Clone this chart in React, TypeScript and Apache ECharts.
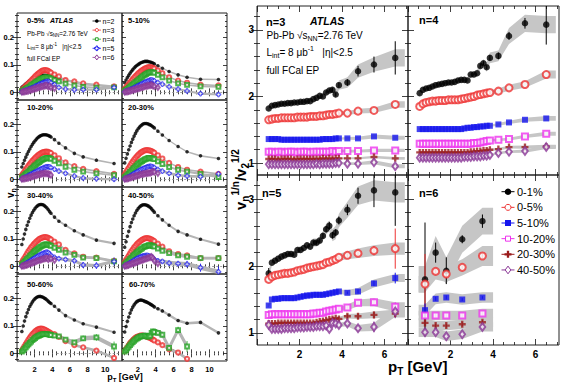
import React, { useEffect, useRef } from "react";
import * as echarts from "echarts";

/* ================= LEFT FIGURE: v_n vs pT, 8 centrality bins ================= */
const pTLeft = [0.55, 0.7, 0.85, 1.0, 1.15, 1.3, 1.45, 1.6, 1.75, 1.9, 2.05, 2.2, 2.35, 2.5, 2.65, 2.8, 2.95, 3.1, 3.25, 3.4, 3.55, 3.7, 3.85, 4.25, 4.75, 5.5, 6.5, 7.5, 9, 11];
const centralityLabels = ["0-5%", "5-10%", "10-20%", "20-30%", "30-40%", "40-50%", "50-60%", "60-70%"];
const harmonicLabels = ["n=2", "n=3", "n=4", "n=5", "n=6"];

const v0_5_n2 = [0.018, 0.022, 0.027, 0.031, 0.035, 0.039, 0.042, 0.045, 0.048, 0.051, 0.053, 0.055, 0.057, 0.059, 0.060, 0.061, 0.062, 0.062, 0.062, 0.061, 0.060, 0.059, 0.058, 0.055, 0.049, 0.045, 0.034, 0.028, 0.025, 0.018];
const v0_5_n3 = [0.008, 0.013, 0.018, 0.023, 0.028, 0.033, 0.038, 0.043, 0.048, 0.053, 0.058, 0.063, 0.067, 0.071, 0.075, 0.078, 0.080, 0.081, 0.081, 0.080, 0.078, 0.075, 0.072, 0.065, 0.058, 0.045, 0.040, 0.033, 0.028, 0.022];
const v0_5_n4 = [0.004, 0.007, 0.010, 0.013, 0.016, 0.019, 0.022, 0.026, 0.029, 0.032, 0.035, 0.039, 0.042, 0.045, 0.048, 0.050, 0.052, 0.054, 0.055, 0.055, 0.054, 0.052, 0.050, 0.045, 0.040, 0.032, 0.025, 0.020, 0.017, 0.018];
const v0_5_n5 = [0.002, 0.003, 0.005, 0.007, 0.009, 0.011, 0.013, 0.015, 0.017, 0.019, 0.022, 0.024, 0.026, 0.029, 0.031, 0.033, 0.035, 0.037, 0.039, 0.040, 0.040, 0.038, 0.035, 0.028, 0.018, 0.012, 0.009, 0.010, 0.010, 0.018];
const v0_5_n6 = [0.001, 0.002, 0.003, 0.004, 0.005, 0.006, 0.008, 0.009, 0.011, 0.012, 0.014, 0.015, 0.017, 0.018, 0.020, 0.021, 0.022, 0.024, 0.025, 0.025, 0.020, 0.024, 0.018, 0.015, null, null, null, null, null, null];

const v5_10_n2 = [0.035, 0.045, 0.054, 0.062, 0.070, 0.077, 0.083, 0.089, 0.094, 0.098, 0.102, 0.105, 0.108, 0.110, 0.112, 0.113, 0.113, 0.113, 0.112, 0.111, 0.109, 0.107, 0.104, 0.097, 0.088, 0.076, 0.064, 0.055, 0.048, 0.047];
const v5_10_n3 = [0.012, 0.018, 0.024, 0.030, 0.036, 0.042, 0.048, 0.054, 0.059, 0.064, 0.069, 0.073, 0.077, 0.081, 0.084, 0.087, 0.089, 0.091, 0.092, 0.092, 0.091, 0.089, 0.087, 0.080, 0.070, 0.055, 0.043, 0.035, 0.028, 0.025];
const v5_10_n4 = [0.006, 0.009, 0.013, 0.017, 0.021, 0.025, 0.029, 0.033, 0.037, 0.041, 0.045, 0.049, 0.053, 0.057, 0.061, 0.064, 0.067, 0.070, 0.072, 0.074, 0.074, 0.073, 0.071, 0.064, 0.055, 0.043, 0.033, 0.027, 0.022, 0.020];
const v5_10_n5 = [0.002, 0.004, 0.006, 0.008, 0.010, 0.012, 0.014, 0.017, 0.019, 0.022, 0.024, 0.027, 0.029, 0.032, 0.034, 0.037, 0.039, 0.041, 0.043, 0.045, 0.045, 0.044, 0.042, 0.036, 0.030, 0.020, 0.012, 0.005, -0.005, -0.008];
const v5_10_n6 = [0.001, 0.002, 0.003, 0.004, 0.005, 0.007, 0.008, 0.010, 0.011, 0.013, 0.014, 0.016, 0.017, 0.019, 0.020, 0.022, 0.023, 0.024, 0.025, 0.026, 0.027, 0.024, 0.022, 0.018, null, null, null, null, null, null];

const v10_20_n2 = [0.045, 0.058, 0.070, 0.081, 0.092, 0.102, 0.111, 0.120, 0.128, 0.135, 0.141, 0.147, 0.152, 0.156, 0.159, 0.161, 0.163, 0.163, 0.163, 0.162, 0.160, 0.158, 0.155, 0.145, 0.132, 0.115, 0.095, 0.082, 0.070, 0.058];
const v10_20_n3 = [0.015, 0.022, 0.029, 0.036, 0.043, 0.050, 0.056, 0.062, 0.068, 0.073, 0.078, 0.083, 0.087, 0.091, 0.094, 0.097, 0.099, 0.100, 0.101, 0.101, 0.100, 0.098, 0.096, 0.088, 0.077, 0.062, 0.048, 0.038, 0.030, 0.020];
const v10_20_n4 = [0.007, 0.011, 0.015, 0.020, 0.024, 0.029, 0.033, 0.038, 0.042, 0.047, 0.051, 0.055, 0.059, 0.063, 0.066, 0.070, 0.073, 0.075, 0.077, 0.078, 0.078, 0.077, 0.075, 0.068, 0.058, 0.046, 0.035, 0.028, 0.022, 0.015];
const v10_20_n5 = [0.002, 0.004, 0.006, 0.009, 0.011, 0.014, 0.016, 0.019, 0.021, 0.024, 0.027, 0.029, 0.032, 0.034, 0.037, 0.039, 0.041, 0.043, 0.045, 0.046, 0.046, 0.045, 0.043, 0.037, 0.030, 0.022, 0.012, 0.005, 0.002, 0.000];
const v10_20_n6 = [0.001, 0.002, 0.003, 0.004, 0.005, 0.006, 0.008, 0.009, 0.011, 0.012, 0.014, 0.015, 0.017, 0.018, 0.019, 0.020, 0.021, 0.022, 0.022, 0.021, 0.020, 0.018, 0.016, null, null, null, null, null, null, null];

const v20_30_n2 = [0.060, 0.077, 0.093, 0.108, 0.122, 0.135, 0.147, 0.158, 0.168, 0.177, 0.185, 0.191, 0.196, 0.200, 0.203, 0.204, 0.204, 0.203, 0.201, 0.199, 0.196, 0.192, 0.188, 0.176, 0.162, 0.142, 0.120, 0.101, 0.086, 0.076];
const v20_30_n3 = [0.018, 0.026, 0.034, 0.042, 0.050, 0.058, 0.065, 0.072, 0.078, 0.084, 0.089, 0.094, 0.098, 0.101, 0.104, 0.106, 0.107, 0.107, 0.106, 0.105, 0.103, 0.100, 0.097, 0.088, 0.076, 0.060, 0.045, 0.035, 0.028, 0.020];
const v20_30_n4 = [0.008, 0.012, 0.017, 0.022, 0.027, 0.032, 0.037, 0.042, 0.047, 0.051, 0.056, 0.060, 0.064, 0.067, 0.070, 0.073, 0.075, 0.077, 0.078, 0.078, 0.077, 0.076, 0.074, 0.066, 0.056, 0.045, 0.035, 0.028, 0.020, 0.008];
const v20_30_n5 = [0.002, 0.004, 0.007, 0.009, 0.012, 0.015, 0.018, 0.021, 0.024, 0.027, 0.030, 0.033, 0.035, 0.038, 0.040, 0.042, 0.044, 0.046, 0.047, 0.048, 0.047, 0.045, 0.043, 0.036, 0.030, 0.022, 0.015, 0.012, 0.010, 0.020];
const v20_30_n6 = [0.001, 0.002, 0.003, 0.004, 0.006, 0.007, 0.009, 0.010, 0.012, 0.013, 0.015, 0.016, 0.018, 0.019, 0.020, 0.021, 0.022, 0.023, 0.023, 0.024, 0.026, 0.028, 0.027, 0.022, null, null, null, null, null, null];

const v30_40_n2 = [0.080, 0.100, 0.118, 0.135, 0.150, 0.163, 0.176, 0.187, 0.197, 0.205, 0.212, 0.218, 0.222, 0.225, 0.226, 0.226, 0.225, 0.222, 0.218, 0.213, 0.207, 0.200, 0.194, 0.180, 0.165, 0.150, 0.130, 0.115, 0.096, 0.084];
const v30_40_n3 = [0.015, 0.023, 0.031, 0.039, 0.047, 0.055, 0.062, 0.069, 0.075, 0.081, 0.086, 0.091, 0.095, 0.099, 0.102, 0.104, 0.106, 0.107, 0.107, 0.106, 0.104, 0.101, 0.098, 0.090, 0.080, 0.060, 0.047, 0.035, 0.032, 0.020];
const v30_40_n4 = [0.007, 0.012, 0.017, 0.022, 0.027, 0.032, 0.037, 0.042, 0.047, 0.052, 0.056, 0.060, 0.064, 0.068, 0.071, 0.074, 0.077, 0.079, 0.080, 0.080, 0.079, 0.077, 0.075, 0.068, 0.060, 0.050, 0.042, 0.032, 0.030, 0.018];
const v30_40_n5 = [0.002, 0.004, 0.007, 0.010, 0.013, 0.016, 0.019, 0.022, 0.025, 0.028, 0.031, 0.034, 0.037, 0.040, 0.042, 0.045, 0.047, 0.049, 0.051, 0.052, 0.050, 0.045, 0.040, 0.033, 0.028, 0.025, 0.020, 0.005, 0.003, 0.018];
const v30_40_n6 = [0.001, 0.002, 0.003, 0.005, 0.006, 0.008, 0.010, 0.012, 0.013, 0.015, 0.017, 0.019, 0.021, 0.022, 0.024, 0.025, 0.027, 0.028, 0.029, 0.030, 0.025, 0.031, 0.028, 0.022, null, null, null, null, null, null];

const v40_50_n2 = [0.070, 0.090, 0.110, 0.128, 0.145, 0.160, 0.173, 0.185, 0.195, 0.204, 0.211, 0.217, 0.221, 0.224, 0.225, 0.225, 0.224, 0.222, 0.219, 0.215, 0.210, 0.204, 0.198, 0.185, 0.170, 0.150, 0.128, 0.115, 0.099, 0.081];
const v40_50_n3 = [0.015, 0.023, 0.031, 0.039, 0.047, 0.055, 0.062, 0.069, 0.075, 0.081, 0.086, 0.090, 0.094, 0.097, 0.100, 0.102, 0.103, 0.103, 0.102, 0.100, 0.098, 0.095, 0.092, 0.083, 0.072, 0.055, 0.045, 0.040, 0.030, 0.030];
const v40_50_n4 = [0.007, 0.012, 0.017, 0.022, 0.027, 0.032, 0.037, 0.042, 0.047, 0.051, 0.055, 0.059, 0.063, 0.066, 0.070, 0.072, 0.074, 0.076, 0.077, 0.077, 0.076, 0.074, 0.072, 0.065, 0.057, 0.048, 0.040, 0.035, 0.030, 0.030];
const v40_50_n5 = [0.002, 0.004, 0.007, 0.010, 0.013, 0.016, 0.019, 0.022, 0.025, 0.028, 0.031, 0.033, 0.035, 0.037, 0.038, 0.039, 0.040, 0.040, 0.038, 0.036, 0.035, 0.030, 0.025, 0.020, 0.018, 0.012, 0.010, 0.008, -0.005, -0.020];
const v40_50_n6 = [0.001, 0.002, 0.004, 0.005, 0.007, 0.009, 0.011, 0.012, 0.014, 0.016, 0.018, 0.020, 0.021, 0.023, 0.025, 0.027, 0.028, 0.030, 0.031, 0.033, 0.035, 0.030, 0.020, 0.010, null, null, null, null, null, null];

const v50_60_n2 = [0.080, 0.100, 0.118, 0.134, 0.148, 0.160, 0.171, 0.180, 0.188, 0.195, 0.200, 0.204, 0.207, 0.208, 0.208, 0.207, 0.205, 0.202, 0.199, 0.195, 0.190, 0.186, 0.182, 0.172, 0.158, 0.138, 0.122, 0.108, 0.096, 0.077];
const v50_60_n3 = [0.010, 0.018, 0.026, 0.034, 0.042, 0.050, 0.057, 0.064, 0.070, 0.075, 0.080, 0.084, 0.087, 0.089, 0.090, 0.090, 0.089, 0.087, 0.085, 0.082, 0.079, 0.076, 0.073, 0.070, 0.060, 0.045, 0.030, 0.022, 0.010, -0.017];
const v50_60_n4 = [0.006, 0.011, 0.017, 0.022, 0.028, 0.033, 0.038, 0.043, 0.048, 0.052, 0.056, 0.060, 0.063, 0.065, 0.067, 0.069, 0.070, 0.070, 0.070, 0.070, 0.069, 0.068, 0.067, 0.065, 0.062, 0.050, 0.040, 0.055, 0.058, 0.025];

const v60_70_n2 = [0.078, 0.098, 0.117, 0.133, 0.147, 0.159, 0.169, 0.177, 0.184, 0.189, 0.192, 0.194, 0.195, 0.194, 0.192, 0.190, 0.188, 0.186, 0.183, 0.180, 0.177, 0.174, 0.170, 0.163, 0.155, 0.140, 0.120, 0.110, 0.113, 0.075];
const v60_70_n3 = [0.008, 0.015, 0.022, 0.030, 0.037, 0.043, 0.048, 0.053, 0.057, 0.060, 0.062, 0.064, 0.065, 0.065, 0.064, 0.063, 0.062, 0.060, 0.058, 0.056, 0.053, 0.050, 0.047, 0.040, 0.030, 0.015, 0.003, -0.020, null, null];
const v60_70_n4 = [0.006, 0.012, 0.018, 0.024, 0.030, 0.036, 0.041, 0.046, 0.050, 0.054, 0.057, 0.060, 0.062, 0.063, 0.064, 0.065, 0.064, 0.060, 0.062, 0.065, 0.075, 0.080, 0.078, 0.075, 0.068, 0.020, 0.085, 0.025, null, null];

// systematic half-widths (per harmonic n=2..6) for each centrality bin
const sysL0_5 = [0.003, 0.003, 0.003, 0.004, 0.004];
const sysL5_10 = [0.003, 0.003, 0.003, 0.004, 0.004];
const sysL10_20 = [0.003, 0.003, 0.003, 0.004, 0.004];
const sysL20_30 = [0.003, 0.003, 0.004, 0.005, 0.005];
const sysL30_40 = [0.004, 0.004, 0.004, 0.006, 0.006];
const sysL40_50 = [0.004, 0.004, 0.005, 0.008, 0.008];
const sysL50_60 = [0.004, 0.005, 0.008];
const sysL60_70 = [0.005, 0.006, 0.012];

// statistical errors at the high-pT points (pT = 4.25 ... 11)
const errTail30_40_n5 = [0.004, 0.005, 0.006, 0.008, 0.010, 0.012, 0.015];
const errTail40_50_n5 = [0.004, 0.005, 0.006, 0.008, 0.012, 0.015, 0.020];
const errTail50_60_n4 = [0.004, 0.005, 0.006, 0.008, 0.010, 0.012, 0.018];
const errTail60_70_n3 = [0.004, 0.005, 0.006, 0.008, 0.010, 0, 0];
const errTail60_70_n4 = [0.006, 0.008, 0.010, 0.012, 0.020, 0, 0];

/* ================= RIGHT FIGURE: v_n^{1/n}/v_2^{1/2} ================= */
const pTRight = [0.55, 0.7, 0.85, 1.0, 1.15, 1.3, 1.45, 1.6, 1.75, 1.9, 2.05, 2.2, 2.35, 2.5, 2.65, 2.8, 2.95, 3.1, 3.25, 3.4, 3.55, 3.7, 3.85, 4.25, 4.75, 5.5, 6.5];
const pTN6 = [0.8, 1.3, 1.8, 2.55, 3.5];
const rightCentLabels = ["0-1%", "0-5%", "5-10%", "10-20%", "20-30%", "40-50%"];
const rightPanelLabels = ["n=3", "n=4", "n=5", "n=6"];

const n3_c01 = [1.82, 1.86, 1.87, 1.88, 1.89, 1.89, 1.90, 1.90, 1.91, 1.91, 1.92, 1.92, 1.93, 1.93, 1.96, 1.98, 2.01, 2.00, 2.06, 2.09, 2.10, 2.03, 2.17, 2.21, 2.38, 2.48, 2.58];
const n3_c05 = [1.65, 1.66, 1.67, 1.67, 1.68, 1.68, 1.68, 1.68, 1.68, 1.69, 1.69, 1.69, 1.69, 1.70, 1.70, 1.70, 1.71, 1.71, 1.72, 1.73, 1.73, 1.74, 1.75, 1.75, 1.78, 1.79, 1.88];
const n3_c510 = [1.36, 1.36, 1.36, 1.36, 1.35, 1.35, 1.35, 1.35, 1.35, 1.35, 1.35, 1.35, 1.35, 1.35, 1.35, 1.35, 1.35, 1.36, 1.36, 1.36, 1.36, 1.37, 1.37, 1.37, 1.37, 1.40, 1.38];
const n3_c1020 = [1.17, 1.17, 1.16, 1.17, 1.17, 1.16, 1.17, 1.17, 1.17, 1.16, 1.17, 1.17, 1.17, 1.16, 1.17, 1.17, 1.17, 1.17, 1.17, 1.17, 1.18, 1.17, 1.18, 1.18, 1.18, 1.19, 1.19];
const n3_c2030 = [1.06, 1.06, 1.06, 1.05, 1.06, 1.06, 1.06, 1.06, 1.05, 1.06, 1.06, 1.06, 1.06, 1.06, 1.06, 1.06, 1.06, 1.07, 1.06, 1.07, 1.06, 1.07, 1.07, 1.07, 1.07, 1.09, 1.07];
const n3_c4050 = [0.98, 0.98, 0.98, 0.98, 0.98, 0.98, 0.98, 0.98, 0.98, 0.98, 0.98, 0.98, 0.98, 0.98, 0.98, 0.99, 0.98, 0.99, 0.99, 0.99, 0.99, 1.00, 1.00, 0.99, 0.99, 1.01, 0.95];

const n4_c01 = [2.05, 2.10, 2.12, 2.13, 2.15, 2.17, 2.18, 2.19, 2.20, 2.21, 2.21, 2.22, 2.24, 2.25, 2.25, 2.24, 2.33, 2.33, 2.35, 2.46, 2.50, 2.44, 2.58, 2.61, 2.91, 3.10, 3.08];
const n4_c05 = [1.85, 1.89, 1.91, 1.92, 1.93, 1.93, 1.94, 1.94, 1.94, 1.95, 1.95, 1.95, 1.95, 1.96, 1.97, 1.98, 1.99, 2.00, 2.02, 2.03, 2.04, 2.05, 2.06, 2.08, 2.13, 2.18, 2.33];
const n4_c510 = [1.51, 1.51, 1.51, 1.51, 1.51, 1.51, 1.51, 1.51, 1.51, 1.51, 1.51, 1.51, 1.51, 1.51, 1.52, 1.53, 1.53, 1.54, 1.54, 1.55, 1.55, 1.56, 1.56, 1.58, 1.61, 1.65, 1.67];
const n4_c1020 = [1.29, 1.29, 1.29, 1.29, 1.29, 1.29, 1.29, 1.29, 1.29, 1.29, 1.29, 1.29, 1.29, 1.29, 1.29, 1.29, 1.29, 1.30, 1.30, 1.31, 1.32, 1.33, 1.34, 1.35, 1.36, 1.40, 1.44];
const n4_c2030 = [1.16, 1.16, 1.16, 1.16, 1.16, 1.16, 1.16, 1.16, 1.16, 1.16, 1.16, 1.16, 1.16, 1.16, 1.16, 1.16, 1.17, 1.17, 1.18, 1.18, 1.19, 1.19, 1.20, 1.21, 1.24, 1.24, 1.25];
const n4_c4050 = [1.08, 1.08, 1.08, 1.08, 1.08, 1.08, 1.08, 1.08, 1.08, 1.08, 1.08, 1.08, 1.08, 1.08, 1.09, 1.09, 1.09, 1.10, 1.10, 1.10, 1.11, 1.11, 1.12, 1.15, 1.17, 1.18, 1.24];

const n5_c01 = [1.89, 2.05, 2.08, 2.11, 2.14, 2.16, 2.18, 2.18, 2.17, 2.24, 2.24, 2.27, 2.31, 2.29, 2.35, 2.35, 2.38, 2.45, 2.55, 2.60, 2.46, 2.50, 2.68, 2.84, 3.05, 3.13, 3.10];
const n5_c05 = [1.80, 1.84, 1.86, 1.87, 1.88, 1.89, 1.89, 1.90, 1.91, 1.93, 1.94, 1.95, 1.97, 1.98, 1.99, 2.00, 2.01, 2.02, 2.05, 2.06, 2.08, 2.10, 2.13, 2.16, 2.19, 2.23, 2.26];
const n5_c510 = [1.41, 1.50, 1.51, 1.51, 1.52, 1.52, 1.52, 1.52, 1.52, 1.53, 1.54, 1.55, 1.56, 1.56, 1.57, 1.57, 1.57, 1.57, 1.58, 1.59, 1.60, 1.61, 1.62, 1.60, 1.62, 1.74, 1.82];
const n5_c1020 = [1.27, 1.28, 1.28, 1.28, 1.28, 1.28, 1.28, 1.28, 1.28, 1.28, 1.28, 1.28, 1.28, 1.28, 1.29, 1.29, 1.30, 1.30, 1.32, 1.33, 1.34, 1.35, 1.36, 1.38, 1.45, 1.46, 1.39];
const n5_c2030 = [1.14, 1.14, 1.14, 1.15, 1.15, 1.15, 1.15, 1.15, 1.15, 1.15, 1.15, 1.15, 1.15, 1.15, 1.15, 1.16, 1.17, 1.18, 1.19, 1.20, 1.21, 1.22, 1.21, 1.25, 1.25, 1.27, 1.29];
const n5_c4050 = [1.12, 1.06, 1.06, 1.06, 1.06, 1.07, 1.07, 1.07, 1.07, 1.08, 1.08, 1.08, 1.09, 1.09, 1.09, 1.10, 1.10, 1.10, 1.11, 1.06, 1.15, 1.14, 1.12, 1.14, 1.07, 1.09, 1.32];

const n6_c01 = [1.80, 2.20, 1.93, 2.40, 2.67];
const n6_c05 = [1.73, 1.92, 1.88, 1.98, 2.15];
const n6_c510 = [1.34, 1.51, 1.53, 1.50, 1.53];
const n6_c1020 = [1.26, 1.26, 1.26, 1.26, 1.29];
const n6_c2030 = [1.15, 1.11, 1.11, 1.13, 1.16];
const n6_c4050 = [1.01, 1.01, 0.95, 0.98, 1.09];

// systematic half-widths (grey bands)
const sysN3_c01 = [0.03, 0.03, 0.03, 0.03, 0.03, 0.03, 0.03, 0.03, 0.03, 0.03, 0.03, 0.03, 0.03, 0.03, 0.035, 0.035, 0.04, 0.04, 0.045, 0.05, 0.05, 0.06, 0.07, 0.08, 0.10, 0.11, 0.13];
const sysN3_c05 = [0.02, 0.02, 0.02, 0.02, 0.02, 0.02, 0.02, 0.02, 0.02, 0.02, 0.02, 0.02, 0.02, 0.02, 0.02, 0.02, 0.02, 0.02, 0.02, 0.02, 0.025, 0.025, 0.03, 0.03, 0.035, 0.04, 0.05];
const sysN3_c510 = [0.015, 0.015, 0.015, 0.015, 0.015, 0.015, 0.015, 0.015, 0.015, 0.015, 0.015, 0.015, 0.015, 0.015, 0.015, 0.015, 0.015, 0.015, 0.015, 0.015, 0.015, 0.015, 0.015, 0.02, 0.025, 0.03, 0.03];
const sysN3_c1020 = [0.015, 0.015, 0.015, 0.015, 0.015, 0.015, 0.015, 0.015, 0.015, 0.015, 0.015, 0.015, 0.015, 0.015, 0.015, 0.015, 0.015, 0.015, 0.015, 0.015, 0.015, 0.015, 0.015, 0.02, 0.02, 0.025, 0.025];
const sysN3_c2030 = [0.012, 0.012, 0.012, 0.012, 0.012, 0.012, 0.012, 0.012, 0.012, 0.012, 0.012, 0.012, 0.012, 0.012, 0.012, 0.012, 0.012, 0.012, 0.012, 0.012, 0.012, 0.012, 0.012, 0.015, 0.015, 0.02, 0.02];
const sysN3_c4050 = [0.015, 0.015, 0.015, 0.015, 0.015, 0.015, 0.015, 0.015, 0.015, 0.015, 0.015, 0.015, 0.015, 0.015, 0.015, 0.015, 0.015, 0.015, 0.015, 0.015, 0.015, 0.015, 0.015, 0.02, 0.02, 0.03, 0.03];

const sysN4_c01 = [0.04, 0.04, 0.04, 0.04, 0.04, 0.04, 0.04, 0.04, 0.04, 0.04, 0.04, 0.04, 0.04, 0.04, 0.045, 0.045, 0.05, 0.05, 0.055, 0.06, 0.06, 0.07, 0.08, 0.08, 0.12, 0.13, 0.13];
const sysN4_c05 = [0.025, 0.025, 0.025, 0.025, 0.025, 0.025, 0.025, 0.025, 0.025, 0.025, 0.025, 0.025, 0.025, 0.025, 0.025, 0.025, 0.025, 0.025, 0.025, 0.025, 0.03, 0.03, 0.035, 0.04, 0.045, 0.05, 0.06];
const sysN4_c510 = [0.015, 0.015, 0.015, 0.015, 0.015, 0.015, 0.015, 0.015, 0.015, 0.015, 0.015, 0.015, 0.015, 0.015, 0.015, 0.015, 0.015, 0.015, 0.015, 0.015, 0.015, 0.015, 0.015, 0.02, 0.025, 0.03, 0.035];
const sysN4_c1020 = [0.015, 0.015, 0.015, 0.015, 0.015, 0.015, 0.015, 0.015, 0.015, 0.015, 0.015, 0.015, 0.015, 0.015, 0.015, 0.015, 0.015, 0.015, 0.015, 0.015, 0.015, 0.015, 0.015, 0.02, 0.02, 0.025, 0.03];
const sysN4_c2030 = [0.015, 0.015, 0.015, 0.015, 0.015, 0.015, 0.015, 0.015, 0.015, 0.015, 0.015, 0.015, 0.015, 0.015, 0.015, 0.015, 0.015, 0.015, 0.015, 0.015, 0.015, 0.015, 0.015, 0.02, 0.02, 0.025, 0.025];
const sysN4_c4050 = [0.015, 0.015, 0.015, 0.015, 0.015, 0.015, 0.015, 0.015, 0.015, 0.015, 0.015, 0.015, 0.015, 0.015, 0.015, 0.015, 0.015, 0.015, 0.015, 0.015, 0.015, 0.015, 0.015, 0.02, 0.02, 0.025, 0.03];

const sysN5_c01 = [0.05, 0.05, 0.05, 0.05, 0.05, 0.05, 0.05, 0.05, 0.05, 0.05, 0.05, 0.05, 0.05, 0.05, 0.06, 0.06, 0.06, 0.07, 0.08, 0.08, 0.09, 0.10, 0.10, 0.12, 0.14, 0.15, 0.15];
const sysN5_c05 = [0.035, 0.035, 0.035, 0.035, 0.035, 0.035, 0.035, 0.035, 0.035, 0.035, 0.035, 0.035, 0.035, 0.035, 0.035, 0.035, 0.035, 0.035, 0.035, 0.035, 0.04, 0.04, 0.05, 0.06, 0.07, 0.08, 0.09];
const sysN5_c510 = [0.025, 0.025, 0.025, 0.025, 0.025, 0.025, 0.025, 0.025, 0.025, 0.025, 0.025, 0.025, 0.025, 0.025, 0.025, 0.025, 0.025, 0.025, 0.025, 0.025, 0.03, 0.03, 0.03, 0.04, 0.05, 0.06, 0.06];
const sysN5_c1020 = [0.02, 0.02, 0.02, 0.02, 0.02, 0.02, 0.02, 0.02, 0.02, 0.02, 0.02, 0.02, 0.02, 0.02, 0.02, 0.02, 0.02, 0.02, 0.02, 0.02, 0.025, 0.025, 0.03, 0.04, 0.05, 0.06, 0.07];
const sysN5_c2030 = [0.02, 0.02, 0.02, 0.02, 0.02, 0.02, 0.02, 0.02, 0.02, 0.02, 0.02, 0.02, 0.02, 0.02, 0.02, 0.02, 0.02, 0.02, 0.02, 0.02, 0.025, 0.025, 0.03, 0.035, 0.04, 0.05, 0.06];
const sysN5_c4050 = [0.02, 0.02, 0.02, 0.02, 0.02, 0.02, 0.02, 0.02, 0.02, 0.02, 0.02, 0.02, 0.02, 0.02, 0.02, 0.02, 0.02, 0.02, 0.02, 0.02, 0.025, 0.025, 0.03, 0.04, 0.05, 0.06, 0.08];

const sysN6_c01 = [0.20, 0.25, 0.20, 0.20, 0.20];
const sysN6_c05 = [0.12, 0.12, 0.12, 0.12, 0.15];
const sysN6_c510 = [0.08, 0.08, 0.08, 0.08, 0.08];
const sysN6_c1020 = [0.07, 0.07, 0.07, 0.07, 0.07];
const sysN6_c2030 = [0.07, 0.07, 0.07, 0.07, 0.07];
const sysN6_c4050 = [0.07, 0.07, 0.07, 0.07, 0.07];

// statistical errors (0 = smaller than the marker)
const errN3_c01 = [0, 0, 0, 0, 0, 0, 0, 0, 0, 0, 0, 0, 0, 0, 0, 0, 0, 0, 0.02, 0.02, 0.03, 0.03, 0.04, 0.05, 0.08, 0.12, 0.25];
const errN4_c01 = [0, 0, 0, 0, 0, 0, 0, 0, 0, 0, 0, 0, 0, 0, 0, 0, 0, 0, 0, 0.03, 0.03, 0.03, 0.04, 0.05, 0.06, 0.08, 0.30];
const errN5_c01 = [0.08, 0, 0, 0, 0, 0, 0, 0, 0, 0, 0, 0, 0, 0, 0.03, 0.03, 0.03, 0.04, 0.05, 0.06, 0.05, 0.05, 0.06, 0.08, 0.12, 0.25, 0.50];
const errN5_c05 = [0, 0, 0, 0, 0, 0, 0, 0, 0, 0, 0, 0, 0, 0, 0, 0, 0, 0, 0, 0, 0, 0, 0, 0.03, 0.05, 0.07, 0.30];
const errN5_c510 = [0, 0, 0, 0, 0, 0, 0, 0, 0, 0, 0, 0, 0, 0, 0, 0, 0, 0, 0, 0, 0, 0, 0, 0.02, 0.03, 0.04, 0.08];
const errN5_c1020 = [0, 0, 0, 0, 0, 0, 0, 0, 0, 0, 0, 0, 0, 0, 0, 0, 0, 0, 0, 0, 0, 0, 0, 0.02, 0.03, 0.05, 0.07];
const errN5_c2030 = [0, 0, 0, 0, 0, 0, 0, 0, 0, 0, 0, 0, 0, 0, 0, 0, 0, 0, 0, 0, 0, 0, 0, 0.03, 0.04, 0.05, 0.06];
const errN5_c4050 = [0, 0, 0, 0, 0, 0, 0, 0, 0, 0, 0, 0, 0, 0, 0, 0, 0, 0, 0, 0, 0, 0, 0, 0.04, 0.05, 0.08, 0.10];
const errN6_c01 = [0.85, 0.15, 0.20, 0.06, 0.10];
const errN6_c05 = [0.45, 0.05, 0.06, 0.03, 0.04];
const errN6_c510 = [0.10, 0.03, 0.03, 0.02, 0.02];
const errN6_c1020 = [0.04, 0.03, 0.03, 0.03, 0.03];
const errN6_c2030 = [0.04, 0.03, 0.03, 0.03, 0.03];
const errN6_c4050 = [0.05, 0.03, 0.03, 0.03, 0.04];

/* ================= styling ================= */
const FONT = "'Liberation Sans', Arial, Helvetica, sans-serif";
const C = {
  black: "#000000",
  red: "#ee3333",
  green: "#26a226",
  blue: "#1414ee",
  purple: "#8a3696",
  magenta: "#ee33ee",
  darkred: "#9a1b1b",
};
const BAND_R = "#c6c6c6";
const BAND_L = "#b4b4b4";
const SYM_CROSS = "path://M-1,-3L1,-3L1,-1L3,-1L3,1L1,1L1,3L-1,3L-1,1L-3,1L-3,-1L-1,-1Z";

const leftMarkers = [
  { kind: "circle", color: C.black, size: 3.6 },
  { kind: "emptyCircle", color: C.red, size: 4.2 },
  { kind: "emptyRect", color: C.green, size: 3.8 },
  { kind: "emptyCross", color: C.blue, size: 4.6 },
  { kind: "emptyDiamond", color: C.purple, size: 4.6 },
];
const rightMarkers = [
  { kind: "circle", color: C.black, size: 6.5 },
  { kind: "emptyCircle", color: C.red, size: 7 },
  { kind: "rect", color: C.blue, size: 6 },
  { kind: "emptyRect", color: C.magenta, size: 6 },
  { kind: "cross", color: C.darkred, size: 7 },
  { kind: "emptyDiamond", color: C.purple, size: 7 },
];

function symbolOpts(m: any) {
  const s = m.size;
  switch (m.kind) {
    case "circle":
      return { symbol: "circle", symbolSize: s, itemStyle: { color: m.color } };
    case "rect":
      return { symbol: "rect", symbolSize: s, itemStyle: { color: m.color } };
    case "cross":
      return { symbol: SYM_CROSS, symbolSize: s, itemStyle: { color: m.color } };
    case "emptyCross":
      return { symbol: SYM_CROSS, symbolSize: s, itemStyle: { color: "#ffffff", borderColor: m.color, borderWidth: 0.9 } };
    case "emptyCircle":
      return { symbol: "emptyCircle", symbolSize: s, itemStyle: { color: m.color, borderColor: m.color, borderWidth: 1 } };
    case "emptyRect":
      return { symbol: "emptyRect", symbolSize: s, itemStyle: { color: m.color, borderColor: m.color, borderWidth: 1 } };
    case "emptyDiamond":
      return { symbol: "emptyDiamond", symbolSize: [s * 0.8, s * 1.1], itemStyle: { color: m.color, borderColor: m.color, borderWidth: 1 } };
  }
  return {};
}

function markerGraphic(m: any, cx: number, cy: number) {
  const s = m.size;
  const r = s / 2;
  const open = { fill: "#ffffff", stroke: m.color, lineWidth: 1 };
  const full = { fill: m.color };
  const z = 50;
  switch (m.kind) {
    case "circle":
      return { type: "circle", z, shape: { cx, cy, r }, style: full };
    case "emptyCircle":
      return { type: "circle", z, shape: { cx, cy, r: r - 0.5 }, style: open };
    case "rect":
      return { type: "rect", z, shape: { x: cx - r, y: cy - r, width: s, height: s }, style: full };
    case "emptyRect":
      return { type: "rect", z, shape: { x: cx - r + 0.5, y: cy - r + 0.5, width: s - 1, height: s - 1 }, style: open };
    case "emptyDiamond": {
      const w = r * 0.8, h = r * 1.1;
      return { type: "polygon", z, shape: { points: [[cx, cy - h], [cx + w, cy], [cx, cy + h], [cx - w, cy]] }, style: open };
    }
    case "cross":
    case "emptyCross": {
      const a = r / 3;
      const pts = [[-a, -r], [a, -r], [a, -a], [r, -a], [r, a], [a, a], [a, r], [-a, r], [-a, a], [-r, a], [-r, -a], [-a, -a]].map((p) => [cx + p[0], cy + p[1]]);
      return { type: "polygon", z, shape: { points: pts }, style: m.kind === "cross" ? full : { fill: "#ffffff", stroke: m.color, lineWidth: 0.9 } };
    }
  }
  return null;
}

/* ================= option builder ================= */
function buildOption() {
  const grids: any[] = [];
  const xAxes: any[] = [];
  const yAxes: any[] = [];
  const series: any[] = [];
  const graphics: any[] = [];

  function addPanel(p: any) {
    const gi = grids.length;
    grids.push({ left: p.left, top: p.top, width: p.width, height: p.height, show: true, borderColor: "#222", borderWidth: 1, backgroundColor: "transparent", containLabel: false });
    const xi = xAxes.length;
    const yi = yAxes.length;
    const lblStyle = { fontFamily: FONT, fontWeight: "bold", fontSize: p.labelSize, color: "#000" };
    const mk = (pos: string, vals: number[], len: number, label: any) => ({
      gridIndex: gi, type: "value", position: pos, offset: 0, silent: true,
      min: pos === "bottom" || pos === "top" ? p.xMin : p.yMin,
      max: pos === "bottom" || pos === "top" ? p.xMax : p.yMax,
      axisLine: { show: false }, splitLine: { show: false },
      axisTick: { show: true, inside: true, length: len, customValues: vals, lineStyle: { color: "#111", width: 0.8 } },
      axisLabel: label ? { show: true, customValues: label.values, margin: label.margin, ...lblStyle } : { show: false },
    });
    xAxes.push(mk("bottom", p.xMajor, p.majLen, p.xLabels ? { values: p.xLabels, margin: p.xMargin } : null));
    xAxes.push(mk("top", p.xMajor, p.majLen, null));
    xAxes.push(mk("bottom", p.xMinor, p.minLen, null));
    xAxes.push(mk("top", p.xMinor, p.minLen, null));
    yAxes.push(mk("left", p.yMajor, p.majLen, p.yLabels ? { values: p.yLabels, margin: p.yMargin } : null));
    yAxes.push(mk("right", p.yMajor, p.majLen, null));
    yAxes.push(mk("left", p.yMinor, p.minLen, null));
    yAxes.push(mk("right", p.yMinor, p.minLen, null));
    return { xi, yi };
  }

  function bandSeries(ax: any, xs: number[], ys: any[], sys: any, extL: number, extR: number, lim: any, fill: string) {
    const idx: number[] = [];
    ys.forEach((y, i) => { if (y !== null && y !== undefined) idx.push(i); });
    if (!idx.length) return null;
    return {
      type: "custom", xAxisIndex: ax.xi, yAxisIndex: ax.yi, z: 1, silent: true,
      data: [[xs[idx[0]], ys[idx[0]]]],
      renderItem: (_p: any, api: any) => {
        const cy = (v: number) => Math.max(lim.yMin, Math.min(lim.yMax, v));
        const cx = (v: number) => Math.max(lim.xMin, Math.min(lim.xMax, v));
        const pts = idx.map((i) => ({ x: xs[i], y: ys[i], s: typeof sys === "number" ? sys : sys[i] }));
        const f = pts[0], l = pts[pts.length - 1];
        const seq = [{ x: cx(f.x - extL), y: f.y, s: f.s }, ...pts, { x: cx(l.x + extR), y: l.y, s: l.s }];
        const up = seq.map((q) => api.coord([q.x, cy(q.y + q.s)]));
        const lo = seq.map((q) => api.coord([q.x, cy(q.y - q.s)])).reverse();
        return { type: "polygon", shape: { points: up.concat(lo) }, style: { fill, stroke: null } };
      },
    };
  }

  function errSeries(ax: any, xs: number[], ys: any[], errs: number[], color: string, lim: any, lw: number) {
    const data: any[] = [];
    xs.forEach((x, i) => { if (ys[i] !== null && ys[i] !== undefined && errs[i] > 0) data.push([x, ys[i], errs[i]]); });
    if (!data.length) return null;
    return {
      type: "custom", xAxisIndex: ax.xi, yAxisIndex: ax.yi, z: 2, silent: true, data,
      renderItem: (_p: any, api: any) => {
        const x = api.value(0), y = api.value(1), e = api.value(2);
        const a = api.coord([x, Math.min(lim.yMax, y + e)]);
        const b = api.coord([x, Math.max(lim.yMin, y - e)]);
        return { type: "line", shape: { x1: a[0], y1: a[1], x2: b[0], y2: b[1] }, style: { stroke: color, lineWidth: lw } };
      },
    };
  }

  function pointSeries(ax: any, name: string, xs: number[], ys: any[], m: any, extra: any = {}) {
    const data: any[] = [];
    xs.forEach((x, i) => { if (ys[i] !== null && ys[i] !== undefined) data.push([x, ys[i]]); });
    return { type: "scatter", name, xAxisIndex: ax.xi, yAxisIndex: ax.yi, z: 3, silent: true, data, ...symbolOpts(m), ...extra };
  }

  /* ---------- left figure ---------- */
  const leftVals = [
    [v0_5_n2, v0_5_n3, v0_5_n4, v0_5_n5, v0_5_n6],
    [v5_10_n2, v5_10_n3, v5_10_n4, v5_10_n5, v5_10_n6],
    [v10_20_n2, v10_20_n3, v10_20_n4, v10_20_n5, v10_20_n6],
    [v20_30_n2, v20_30_n3, v20_30_n4, v20_30_n5, v20_30_n6],
    [v30_40_n2, v30_40_n3, v30_40_n4, v30_40_n5, v30_40_n6],
    [v40_50_n2, v40_50_n3, v40_50_n4, v40_50_n5, v40_50_n6],
    [v50_60_n2, v50_60_n3, v50_60_n4],
    [v60_70_n2, v60_70_n3, v60_70_n4],
  ];
  const leftSys = [sysL0_5, sysL5_10, sysL10_20, sysL20_30, sysL30_40, sysL40_50, sysL50_60, sysL60_70];
  const leftTailErr: any = {
    "4-3": errTail30_40_n5,
    "5-3": errTail40_50_n5,
    "6-2": errTail50_60_n4,
    "7-1": errTail60_70_n3,
    "7-2": errTail60_70_n4,
  };
  const nDense = 23;
  const LCOLS = [
    { left: 17, xMin: 0, xMax: 11.9 },
    { left: 122, xMin: 0.25, xMax: 11.95 },
  ];
  const LROWS = [13, 100, 187, 274];
  const lYMin = -0.028, lYMax = 0.29;
  const lXMinor: number[] = [];
  for (let k = 1; k <= 23; k++) if (k % 4 !== 0) lXMinor.push(k * 0.5);
  const lYMinor: number[] = [];
  for (let k = -1; k <= 14; k++) if (k % 5 !== 0) lYMinor.push(Math.round(k * 20) / 1000);

  const lPanelLabelPos = [[27, 20.7], [128, 20.7], [27, 107.7], [128, 107.7], [27, 195], [128, 195], [27, 284.3], [129, 284.3]];
  const zeroRefLine = {
    silent: true, symbol: "none", label: { show: false }, z: 1,
    lineStyle: { color: "#8a8a8a", type: [2, 2], width: 0.8 },
    data: [[{ coord: [4.5, 0] }, { coord: [11.5, 0] }]],
  };

  leftVals.forEach((vals, pi) => {
    const col = pi % 2, row = Math.floor(pi / 2);
    const c = LCOLS[col];
    const lim = { xMin: c.xMin, xMax: c.xMax, yMin: lYMin, yMax: lYMax };
    const ax = addPanel({
      left: c.left, top: LROWS[row], width: 105, height: 87,
      xMin: c.xMin, xMax: c.xMax, yMin: lYMin, yMax: lYMax,
      xMajor: [0, 2, 4, 6, 8, 10], xMinor: lXMinor, yMajor: [0, 0.1, 0.2], yMinor: lYMinor,
      xLabels: row === 3 ? [2, 4, 6, 8, 10] : null, yLabels: col === 0 ? [0, 0.1, 0.2] : null,
      majLen: 4, minLen: 2, labelSize: 7.5, xMargin: 4, yMargin: 3,
    });
    vals.forEach((ys, h) => {
      const b = bandSeries(ax, pTLeft, ys, leftSys[pi][h], 0, 0, lim, BAND_L);
      if (b) series.push(b);
    });
    vals.forEach((ys, h) => {
      const tail = leftTailErr[pi + "-" + h];
      if (tail) {
        const errs = pTLeft.map((_x, i) => (i >= nDense ? tail[i - nDense] : 0));
        const e = errSeries(ax, pTLeft, ys, errs, leftMarkers[h].color, lim, 0.8);
        if (e) series.push(e);
      }
    });
    vals.forEach((ys, h) => {
      const extra = h === 0 && pi !== 7 ? { markLine: zeroRefLine } : {};
      series.push(pointSeries(ax, harmonicLabels[h], pTLeft, ys, leftMarkers[h], extra));
    });
    graphics.push({ type: "text", z: 50, x: lPanelLabelPos[pi][0], y: lPanelLabelPos[pi][1], style: { text: centralityLabels[pi], fontFamily: FONT, fontWeight: "bold", fontSize: 7.5, fill: "#000", align: "left", verticalAlign: "middle" } });
  });

  // left figure texts
  const richL = {
    m: { fontFamily: FONT, fontSize: 6.3, lineHeight: 9, fill: "#000" },
    s: { fontFamily: FONT, fontSize: 4.5, lineHeight: 4.5, verticalAlign: "bottom", fill: "#000" },
    p: { fontFamily: FONT, fontSize: 4.5, lineHeight: 4.5, verticalAlign: "top", fill: "#000" },
  };
  graphics.push({ type: "text", z: 50, x: 50, y: 20.7, style: { text: "ATLAS", fontFamily: FONT, fontWeight: "bold", fontStyle: "italic", fontSize: 7, fill: "#000", align: "left", verticalAlign: "middle" } });
  graphics.push({ type: "text", z: 50, x: 27, y: 33.5, style: { text: "{m|Pb-Pb √s}{s|NN}{m|=2.76 TeV}", rich: richL, align: "left", verticalAlign: "middle" } });
  graphics.push({ type: "text", z: 50, x: 27, y: 46.5, style: { text: "{m|L}{s|int}{m|= 8 μb}{p|-1}{m|   |η|<2.5}", rich: richL, align: "left", verticalAlign: "middle" } });
  graphics.push({ type: "text", z: 50, x: 27, y: 58, style: { text: "full FCal EP", fontFamily: FONT, fontSize: 6.3, fill: "#000", align: "left", verticalAlign: "middle" } });
  harmonicLabels.forEach((lab, h) => {
    const y = 21 + h * 9.1;
    const m = leftMarkers[h];
    graphics.push({ type: "line", z: 49, shape: { x1: 92.5, y1: y, x2: 101, y2: y }, style: { stroke: m.color, lineWidth: 0.8 } });
    const g = markerGraphic(m, 96.8, y);
    if (g) graphics.push(g);
    graphics.push({ type: "text", z: 50, x: 102.5, y, style: { text: lab, fontFamily: FONT, fontSize: 7, fill: "#000", align: "left", verticalAlign: "middle" } });
  });
  // left y title (reads bottom to top, starts at its bottom end)
  graphics.push({ type: "text", z: 50, x: 10, y: 198, rotation: Math.PI / 2, style: { text: "{m|v}{s|n}", rich: { m: { fontFamily: FONT, fontWeight: "bold", fontSize: 10, lineHeight: 13, fill: "#000" }, s: { fontFamily: FONT, fontWeight: "bold", fontSize: 7, lineHeight: 7, verticalAlign: "bottom", fill: "#000" } }, align: "left", verticalAlign: "middle" } });
  graphics.push({ type: "text", z: 50, x: 125, y: 377, style: { text: "{m|p}{s|T}{m| [GeV]}", rich: { m: { fontFamily: FONT, fontWeight: "bold", fontSize: 9, lineHeight: 12, fill: "#000" }, s: { fontFamily: FONT, fontWeight: "bold", fontSize: 6, lineHeight: 6, verticalAlign: "bottom", fill: "#000" } }, align: "center", verticalAlign: "middle" } });

  /* ---------- right figure ---------- */
  const rightPanels = [
    { x: pTRight, vals: [n3_c01, n3_c05, n3_c510, n3_c1020, n3_c2030, n3_c4050], sys: [sysN3_c01, sysN3_c05, sysN3_c510, sysN3_c1020, sysN3_c2030, sysN3_c4050], err: [errN3_c01, null, null, null, null, null], extL: 0.05, extR: 0.45 },
    { x: pTRight, vals: [n4_c01, n4_c05, n4_c510, n4_c1020, n4_c2030, n4_c4050], sys: [sysN4_c01, sysN4_c05, sysN4_c510, sysN4_c1020, sysN4_c2030, sysN4_c4050], err: [errN4_c01, null, null, null, null, null], extL: 0.05, extR: 0.45 },
    { x: pTRight, vals: [n5_c01, n5_c05, n5_c510, n5_c1020, n5_c2030, n5_c4050], sys: [sysN5_c01, sysN5_c05, sysN5_c510, sysN5_c1020, sysN5_c2030, sysN5_c4050], err: [errN5_c01, errN5_c05, errN5_c510, errN5_c1020, errN5_c2030, errN5_c4050], extL: 0.05, extR: 0.45 },
    { x: pTN6, vals: [n6_c01, n6_c05, n6_c510, n6_c1020, n6_c2030, n6_c4050], sys: [sysN6_c01, sysN6_c05, sysN6_c510, sysN6_c1020, sysN6_c2030, sysN6_c4050], err: [errN6_c01, errN6_c05, errN6_c510, errN6_c1020, errN6_c2030, errN6_c4050], extL: 0.3, extR: 0.5 },
  ];
  const RCOLS = [257, 408];
  const RROWS = [{ top: 6, height: 169 }, { top: 175, height: 170 }];
  const rXMin = 0, rXMax = 7.1, rYMin = 0.82, rYMax = 3.36;
  const rXMinor: number[] = [];
  for (let k = 1; k <= 14; k++) if (k % 4 !== 0) rXMinor.push(k * 0.5);
  const rYMinor: number[] = [];
  for (let k = 5; k <= 16; k++) if (k % 5 !== 0) rYMinor.push(Math.round(k * 2) / 10);
  const rLabelPos = [[266, 21.5], [419, 20], [262, 193], [419, 193]];

  rightPanels.forEach((rp, pi) => {
    const col = pi % 2, row = Math.floor(pi / 2);
    const lim = { xMin: rXMin, xMax: rXMax, yMin: rYMin, yMax: rYMax };
    const ax = addPanel({
      left: RCOLS[col], top: RROWS[row].top, width: 151, height: RROWS[row].height,
      xMin: rXMin, xMax: rXMax, yMin: rYMin, yMax: rYMax,
      xMajor: [0, 2, 4, 6], xMinor: rXMinor, yMajor: [1, 2, 3], yMinor: rYMinor,
      xLabels: row === 1 ? [2, 4, 6] : null, yLabels: col === 0 ? [1, 2, 3] : null,
      majLen: 6, minLen: 3, labelSize: 10, xMargin: 4, yMargin: 3,
    });
    rp.vals.forEach((ys, c) => {
      const b = bandSeries(ax, rp.x, ys, rp.sys[c], rp.extL, rp.extR, lim, BAND_R);
      if (b) series.push(b);
    });
    rp.vals.forEach((ys, c) => {
      const errs = rp.err[c];
      if (errs) {
        const e = errSeries(ax, rp.x, ys, errs, rightMarkers[c].color, lim, 1);
        if (e) series.push(e);
      }
    });
    rp.vals.forEach((ys, c) => {
      series.push(pointSeries(ax, rightCentLabels[c], rp.x, ys, rightMarkers[c]));
    });
    graphics.push({ type: "text", z: 50, x: rLabelPos[pi][0], y: rLabelPos[pi][1], style: { text: rightPanelLabels[pi], fontFamily: FONT, fontWeight: "bold", fontSize: 11, fill: "#000", align: "left", verticalAlign: "middle" } });
  });

  const richR = {
    m: { fontFamily: FONT, fontSize: 10, lineHeight: 14, fill: "#000" },
    s: { fontFamily: FONT, fontSize: 7, lineHeight: 7, verticalAlign: "bottom", fill: "#000" },
    p: { fontFamily: FONT, fontSize: 7, lineHeight: 7, verticalAlign: "top", fill: "#000" },
  };
  graphics.push({ type: "text", z: 50, x: 310, y: 20.5, style: { text: "ATLAS", fontFamily: FONT, fontWeight: "bold", fontStyle: "italic", fontSize: 10.5, fill: "#000", align: "left", verticalAlign: "middle" } });
  graphics.push({ type: "text", z: 50, x: 266.5, y: 35, style: { text: "{m|Pb-Pb √s}{s|NN}{m|=2.76 TeV}", rich: richR, align: "left", verticalAlign: "middle" } });
  graphics.push({ type: "text", z: 50, x: 266.5, y: 52, style: { text: "{m|L}{s|int}{m|= 8 μb}{p|-1}{m|   |η|<2.5}", rich: richR, align: "left", verticalAlign: "middle" } });
  graphics.push({ type: "text", z: 50, x: 266.5, y: 70, style: { text: "full FCal EP", fontFamily: FONT, fontSize: 10, fill: "#000", align: "left", verticalAlign: "middle" } });

  rightCentLabels.forEach((lab, c) => {
    const y = 191.7 + c * 15.65;
    const m = rightMarkers[c];
    graphics.push({ type: "line", z: 49, shape: { x1: 501.5, y1: y, x2: 514.5, y2: y }, style: { stroke: m.color, lineWidth: 1 } });
    const g = markerGraphic(m, 508, y);
    if (g) graphics.push(g);
    graphics.push({ type: "text", z: 50, x: 517, y, style: { text: lab, fontFamily: FONT, fontSize: 11, fill: "#000", align: "left", verticalAlign: "middle" } });
  });

  // right y title (reads bottom to top, starts at its bottom end)
  graphics.push({
    type: "text", z: 50, x: 240, y: 210, rotation: Math.PI / 2,
    style: {
      text: "{m|v}{s|n}{p|1/n}{m|/v}{s|2}{p|1/2}",
      rich: {
        m: { fontFamily: FONT, fontWeight: "bold", fontSize: 15, lineHeight: 20, fill: "#000" },
        s: { fontFamily: FONT, fontWeight: "bold", fontSize: 10, lineHeight: 10, verticalAlign: "bottom", fill: "#000" },
        p: { fontFamily: FONT, fontWeight: "bold", fontSize: 10, lineHeight: 10, verticalAlign: "top", fill: "#000" },
      },
      align: "left", verticalAlign: "middle",
    },
  });
  graphics.push({
    type: "text", z: 50, x: 388, y: 366,
    style: {
      text: "{m|p}{s|T}{m| [GeV]}",
      rich: {
        m: { fontFamily: FONT, fontWeight: "bold", fontSize: 15, lineHeight: 20, fill: "#000" },
        s: { fontFamily: FONT, fontWeight: "bold", fontSize: 10, lineHeight: 10, verticalAlign: "bottom", fill: "#000" },
      },
      align: "left", verticalAlign: "middle",
    },
  });

  return {
    animation: false,
    backgroundColor: "#ffffff",
    textStyle: { fontFamily: FONT },
    grid: grids,
    xAxis: xAxes,
    yAxis: yAxes,
    series,
    graphic: { elements: graphics },
  };
}

export default function App() {
  const ref = useRef<HTMLDivElement>(null);
  useEffect(() => {
    if (!ref.current) return;
    const chart = echarts.init(ref.current, null, { renderer: "svg" });
    chart.setOption(buildOption() as any);
    return () => chart.dispose();
  }, []);
  return <div ref={ref} style={{ position: "fixed", left: 0, top: 0, width: 567, height: 383, background: "#fff" }} />;
}
